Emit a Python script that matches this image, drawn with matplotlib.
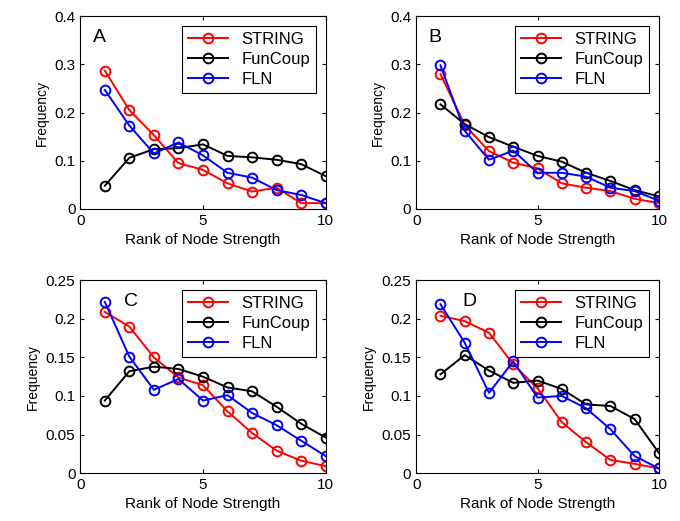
import matplotlib
matplotlib.use("Agg")
import matplotlib.pyplot as plt

plt.rcParams['font.family'] = ['Liberation Sans', 'DejaVu Sans']

rank = [1, 2, 3, 4, 5, 6, 7, 8, 9, 10]
series_names = ['STRING', 'FunCoup', 'FLN']
colors = ['red', 'black', 'blue']
panel_labels = ['A', 'B', 'C', 'D']

# panel A
a_string = [0.287, 0.205, 0.153, 0.095, 0.081, 0.053, 0.036, 0.044, 0.012, 0.012]
a_funcoup = [0.048, 0.106, 0.124, 0.126, 0.134, 0.110, 0.107, 0.102, 0.093, 0.068]
a_fln = [0.247, 0.173, 0.115, 0.138, 0.111, 0.075, 0.065, 0.039, 0.029, 0.012]

# panel B
b_string = [0.280, 0.174, 0.120, 0.096, 0.084, 0.053, 0.044, 0.037, 0.021, 0.012]
b_funcoup = [0.217, 0.176, 0.149, 0.129, 0.110, 0.098, 0.075, 0.058, 0.039, 0.026]
b_fln = [0.298, 0.162, 0.102, 0.121, 0.075, 0.075, 0.067, 0.044, 0.037, 0.017]

# panel C
c_string = [0.209, 0.190, 0.150, 0.124, 0.114, 0.080, 0.052, 0.029, 0.016, 0.009]
c_funcoup = [0.094, 0.132, 0.138, 0.135, 0.125, 0.111, 0.106, 0.086, 0.064, 0.046]
c_fln = [0.222, 0.151, 0.108, 0.122, 0.094, 0.101, 0.078, 0.062, 0.042, 0.022]

# panel D
d_string = [0.204, 0.197, 0.182, 0.141, 0.110, 0.066, 0.040, 0.017, 0.012, 0.006]
d_funcoup = [0.128, 0.153, 0.133, 0.117, 0.120, 0.109, 0.089, 0.087, 0.070, 0.026]
d_fln = [0.219, 0.169, 0.104, 0.145, 0.098, 0.100, 0.084, 0.057, 0.022, 0.006]

panels = [
    (a_string, a_funcoup, a_fln),
    (b_string, b_funcoup, b_fln),
    (c_string, c_funcoup, c_fln),
    (d_string, d_funcoup, d_fln),
]
yticks_top = [0, 0.1, 0.2, 0.3, 0.4]
yticks_bottom = [0, 0.05, 0.1, 0.15, 0.2, 0.25]

fig = plt.figure(figsize=(6.8, 5.21), dpi=100)
rects = [
    [0.118, 0.599, 0.361, 0.370],
    [0.612, 0.599, 0.357, 0.370],
    [0.118, 0.092, 0.361, 0.370],
    [0.612, 0.092, 0.357, 0.370],
]
label_x = [0.05, 0.05, 0.18, 0.19]

for i, (rect, data) in enumerate(zip(rects, panels)):
    ax = fig.add_axes(rect)
    for vals, name, col in zip(data, series_names, colors):
        ax.plot(rank, vals, '-o', color=col, mfc='none', mec=col,
                markersize=7, markeredgewidth=1.4, linewidth=1.4, label=name)
    ax.set_xlim(0, 10)
    ax.set_xticks([0, 5, 10])
    if i < 2:
        ax.set_ylim(0, 0.4)
        ax.set_yticks(yticks_top)
        ax.set_yticklabels(['0', '0.1', '0.2', '0.3', '0.4'])
    else:
        ax.set_ylim(0, 0.25)
        ax.set_yticks(yticks_bottom)
        ax.set_yticklabels(['0', '0.05', '0.1', '0.15', '0.2', '0.25'])
    ax.tick_params(direction='in', top=True, right=True, labelsize=11, length=3)
    ax.set_xlabel('Rank of Node Strength', fontsize=11)
    ax.set_ylabel('Frequency', fontsize=10)
    ax.text(label_x[i], 0.89, panel_labels[i], transform=ax.transAxes,
            fontsize=14, va='center', ha='left')
    leg = ax.legend(loc='upper right', fontsize=12, fancybox=False,
                    framealpha=1, edgecolor='black', handlelength=2.4,
                    borderaxespad=0.6, labelspacing=0.3, borderpad=0.35)
    leg.get_frame().set_linewidth(0.8)
    for sp in ax.spines.values():
        sp.set_linewidth(0.8)

fig.savefig('out.png', dpi=100)
